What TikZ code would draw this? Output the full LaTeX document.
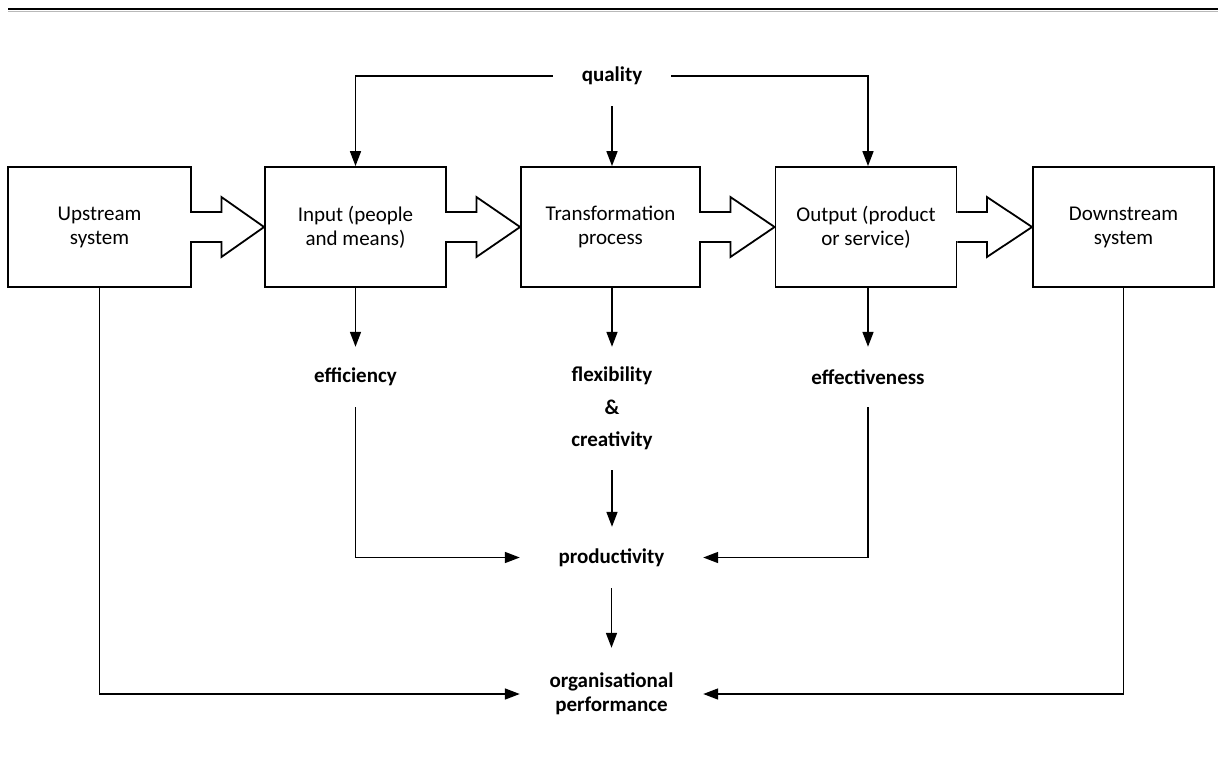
\documentclass[tikz,border=0pt]{standalone}
\usepackage{fontspec}
\setmainfont{Carlito}
\usetikzlibrary{arrows.meta,calc}

\begin{document}
\begin{tikzpicture}[x=1pt,y=-1pt,
  every node/.style={font=\fontsize{21}{24}\selectfont, inner sep=0pt},
  sysbox/.style={draw, line width=1.8pt, minimum width=181pt, minimum height=120pt, align=center},
  measure/.style={font=\fontsize{21}{24}\selectfont\bfseries, align=center, minimum height=60pt},
  link/.style={line width=1.6pt, -{Triangle[length=15pt,width=11pt]}},
  plain/.style={line width=1.6pt},
  flow/.style={line width=1.8pt, line join=miter}
]
\useasboundingbox (0,0) rectangle (1218,756);

% header rule
\draw[line width=2.2pt] (8,9) -- (1218,9);
\draw[gray!55, line width=1pt] (8,11) -- (1218,11);

% the five systems
\node[sysbox, minimum width=183pt] (up)    at (99.5,227)  {Upstream\\system};
\node[sysbox]                      (input) at (355.5,227) {Input (people\\and means)};
\node[sysbox, minimum width=179pt] (trans) at (610.5,227) {Transformation\\process};
\node[sysbox]                      (out)   at (866,227)   {Output (product\\or service)};
\node[sysbox]                      (down)  at (1123.5,227){Downstream\\system};

% broad flow arrows between neighbouring systems
\foreach \a/\b in {up/input, input/trans, trans/out, out/down}{
  \fill[white] ([xshift=-1.6pt,yshift=-14pt]\a.east) rectangle ([xshift=1pt,yshift=14pt]\a.east);
  \draw[flow] ([yshift=15pt]\a.east) -- ++(29.5pt,0) -- ++(0,15pt) -- (\b.west)
    -- ($(\a.east)+(29.5pt,-30pt)$) -- ++(0,15pt) -- ([yshift=-15pt]\a.east);
}

% measures
\node[measure, inner xsep=29pt] (quality) at (612,76) {quality};
\node[measure] (eff)  at (355.5,377) {efficiency};
\node[measure, minimum height=123pt, font=\fontsize{21}{32.5}\selectfont\bfseries] (flex) at (612,408.5) {flexibility\\\&\\creativity};
\node[measure] (effect) at (868,377) {effectiveness};
\node[measure, minimum width=183pt, minimum height=61pt] (prod) at (611.5,557.5) {productivity};
\node[measure, minimum width=183pt, minimum height=92pt] (org) at (611.5,694) {organisational\\performance};

% quality feeds the three core stages
\draw[link] (quality.west) -| (input.north);
\draw[link] (quality.south) -- (quality.south |- trans.north);
\draw[link] (quality.east) -| ([xshift=2pt]out.north);

% stages to their measures
\draw[link] (input.south) -- (eff.north);
\draw[link] (flex.north |- trans.south) -- (flex.north);
\draw[link] ([xshift=2pt]out.south) -- (effect.north);

% measures to productivity
\draw[link] (eff.south) |- (prod.west);
\draw[link] (flex.south) -- (flex.south |- prod.north);
\draw[link] (effect.south) |- (prod.east);

% productivity and the environment to organisational performance
\draw[link] (prod.south) -- (prod.south |- org.north);
\draw[link] (up.south) |- (org.west);
\draw[link] (down.south) |- (org.east);
\end{tikzpicture}
\end{document}
